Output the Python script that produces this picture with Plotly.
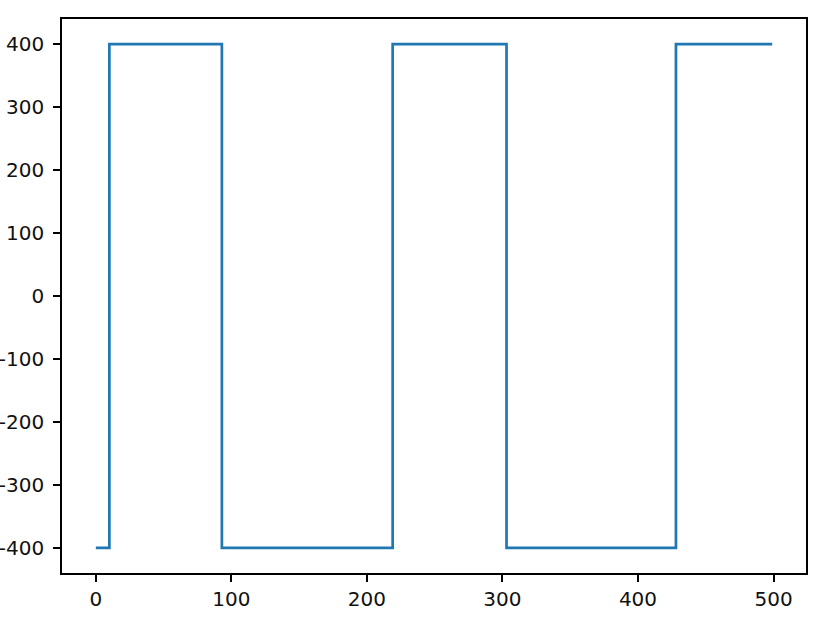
"""Square-wave step signal, matplotlib-like styling."""

import plotly.graph_objects as go

# sample index where each level starts, and the level held from there on
change_idx = [0, 10, 93, 219, 303, 428, 499]
levels = [-400, 400, -400, 400, -400, 400, 400]

x_ticks = [0, 100, 200, 300, 400, 500]
y_ticks = [-400, -300, -200, -100, 0, 100, 200, 300, 400]

fig = go.Figure()
fig.add_trace(go.Scatter(
    x=change_idx, y=levels,
    mode='lines',
    line=dict(color='#1f77b4', width=2.7, shape='hv'),
    showlegend=False,
))

axis_style = dict(
    showline=True, mirror=True, linecolor='black', linewidth=1.5,
    ticks='outside', ticklen=7, tickwidth=1.5, tickcolor='black',
    showgrid=False, zeroline=False, automargin=False,
    tickfont=dict(family='DejaVu Sans', size=20, color='#111'),
)

fig.update_xaxes(range=[-24.95, 523.95], tickvals=x_ticks,
                 ticktext=[str(v) for v in x_ticks],
                 ticklabelstandoff=0, **axis_style)
# plain hyphen for negatives, like the reference
fig.update_yaxes(range=[-440, 440], tickvals=y_ticks,
                 ticktext=[str(v) for v in y_ticks],
                 ticklabelstandoff=5, **axis_style)

fig.update_layout(
    width=838, height=634,
    margin=dict(l=62, r=32, t=19, b=61),
    plot_bgcolor='white', paper_bgcolor='white',
)

# drop the default body margin so the figure fills the window
fig.write_html("out.html", config={'displayModeBar': False},
               post_script="document.body.style.margin = '0';")
